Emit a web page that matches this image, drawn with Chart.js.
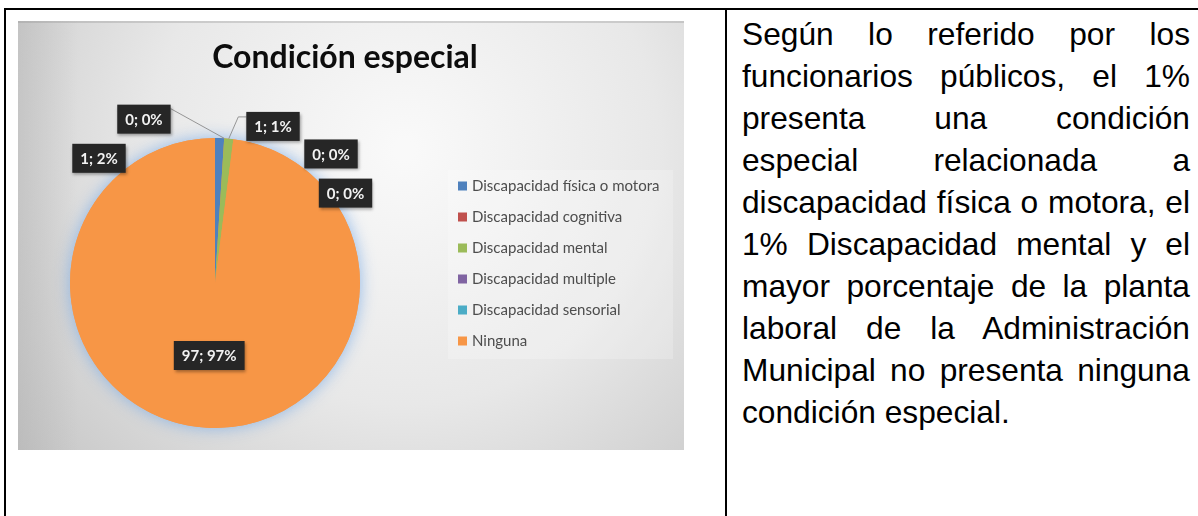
<!DOCTYPE html>
<html lang="es">
<head>
<meta charset="utf-8">
<title>Condición especial</title>
<script src="https://cdn.jsdelivr.net/npm/chart.js@4.4.0/dist/chart.umd.min.js"></script>
<style>
    body {
        margin: 0;
        width: 1198px;
        height: 516px;
        overflow: hidden;
        position: relative;
        background: #ffffff;
        font-family: "Liberation Sans", Arial, sans-serif;
    }
    .rule { position: absolute; background: #000; }
    .rule.top { left: 4px; top: 8px; width: 1194px; height: 2px; }
    .rule.left { left: 4px; top: 8px; width: 2px; height: 508px; }
    .rule.mid { left: 725px; top: 8px; width: 2px; height: 508px; }
    #chartBox { position: absolute; left: 18px; top: 21px; width: 666px; height: 429px; }
    .note {
        position: absolute;
        left: 742px;
        top: 13px;
        width: 448px;
        font-size: 31.7px;
        line-height: 42px;
        text-align: justify;
        color: #000;
    }
</style>
</head>
<body>
<div class="rule top"></div>
<div class="rule left"></div>
<div class="rule mid"></div>

<div id="chartBox"><canvas id="chart" width="666" height="429"></canvas></div>

<div class="note">Según lo referido por los funcionarios públicos, el 1% presenta una condición especial relacionada a discapacidad física o motora, el 1% Discapacidad mental y el mayor porcentaje de la planta laboral de la Administración Municipal no presenta ninguna condición especial.</div>

<script>
// Condición especial - conteo por categoría
const chartTitle = 'Condición especial';
const categories = [
    'Discapacidad física o motora',
    'Discapacidad cognitiva',
    'Discapacidad mental',
    'Discapacidad multiple',
    'Discapacidad sensorial',
    'Ninguna'
];
const counts = [1, 0, 1, 0, 0, 97];
const percentText = ['2%', '0%', '1%', '0%', '0%', '97%'];
const sliceColors = ['#4F81BD', '#C0504D', '#9BBB59', '#8064A2', '#4BACC6', '#F79646'];

// where each data label box sits, relative to the pie centre (in radii)
const labelOffsets = [
    [-0.80, -0.86],
    [-0.49, -1.13],
    [0.40, -1.08],
    [0.80, -0.89],
    [0.90, -0.62],
    [-0.04, 0.50]
];
// which labels get a leader line back to their slice
const leaderStyle = ['none', 'straight', 'elbow', 'none', 'none', 'none'];

const chartFont = 'Lato, "Open Sans", sans-serif';

// gray gradient panel behind everything
const panelBackground = {
    id: 'panelBackground',
    beforeDraw(chart) {
        const { ctx, width, height } = chart;
        ctx.save();
        const g = ctx.createRadialGradient(width * 0.58, height * 0.3, 10, width * 0.58, height * 0.3, width * 0.75);
        g.addColorStop(0, '#f9f9f9');
        g.addColorStop(0.5, '#e8e8e8');
        g.addColorStop(1, '#c4c4c4');
        ctx.fillStyle = g;
        ctx.fillRect(0, 0, width, height);
        // darker strip down the left side
        const side = ctx.createLinearGradient(0, 0, 60, 0);
        side.addColorStop(0, 'rgba(170,170,170,0.35)');
        side.addColorStop(1, 'rgba(170,170,170,0)');
        ctx.fillStyle = side;
        ctx.fillRect(0, 0, 60, height);
        ctx.fillStyle = 'rgba(150,150,150,0.35)';
        ctx.fillRect(0, 0, width, 2);
        ctx.restore();
    }
};

// soft bluish halo around the pie
const pieHalo = {
    id: 'pieHalo',
    beforeDatasetsDraw(chart) {
        const arc = chart.getDatasetMeta(0).data[0];
        if (!arc) return;
        const { ctx } = chart;
        ctx.save();
        ctx.shadowColor = 'rgba(120,170,230,0.8)';
        ctx.shadowBlur = 16;
        ctx.fillStyle = '#F79646';
        ctx.beginPath();
        ctx.arc(arc.x, arc.y, arc.outerRadius, 0, Math.PI * 2);
        ctx.fill();
        ctx.restore();
    }
};

// dark callout boxes "valor; porcentaje"
const calloutLabels = {
    id: 'calloutLabels',
    afterDatasetsDraw(chart) {
        const { ctx } = chart;
        const meta = chart.getDatasetMeta(0);
        ctx.save();
        ctx.font = 'bold 15px ' + chartFont;
        meta.data.forEach((arc, i) => {
            const r = arc.outerRadius;
            const cx = arc.x + labelOffsets[i][0] * r;
            const cy = arc.y + labelOffsets[i][1] * r;
            const text = counts[i] + '; ' + percentText[i];
            const w = ctx.measureText(text).width + 16;
            const h = 29;
            const left = cx - w / 2;
            const top = cy - h / 2;

            const mid = (arc.startAngle + arc.endAngle) / 2;
            const ex = arc.x + Math.cos(mid) * r;
            const ey = arc.y + Math.sin(mid) * r;
            ctx.strokeStyle = 'rgba(140,140,140,0.9)';
            ctx.lineWidth = 1;
            if (leaderStyle[i] === 'straight') {
                ctx.beginPath();
                ctx.moveTo(left + w, top + 4);
                ctx.lineTo(ex, ey);
                ctx.stroke();
            } else if (leaderStyle[i] === 'elbow') {
                ctx.beginPath();
                ctx.moveTo(ex, ey);
                ctx.lineTo(left - 8, top + 5);
                ctx.lineTo(left, top + 5);
                ctx.stroke();
            }

            ctx.save();
            ctx.shadowColor = 'rgba(0,0,0,0.35)';
            ctx.shadowBlur = 3;
            ctx.shadowOffsetX = 1;
            ctx.shadowOffsetY = 2;
            ctx.fillStyle = '#262626';
            ctx.fillRect(left, top, w, h);
            ctx.restore();

            ctx.fillStyle = '#f2f2f2';
            ctx.textAlign = 'center';
            ctx.textBaseline = 'middle';
            ctx.fillText(text, cx, cy + 1);
        });
        ctx.restore();
    }
};

// title and legend panel
const titleAndLegend = {
    id: 'titleAndLegend',
    afterDraw(chart) {
        const { ctx } = chart;
        ctx.save();
        ctx.fillStyle = '#0d0d0d';
        ctx.font = 'bold 32px ' + chartFont;
        ctx.textAlign = 'center';
        ctx.textBaseline = 'alphabetic';
        ctx.fillText(chartTitle, 327, 47);

        ctx.fillStyle = 'rgba(255,255,255,0.22)';
        ctx.fillRect(430, 149, 225, 189);

        ctx.font = '15px ' + chartFont;
        ctx.textAlign = 'left';
        ctx.textBaseline = 'middle';
        categories.forEach((name, i) => {
            const y = 165 + i * 31;
            ctx.fillStyle = sliceColors[i];
            ctx.fillRect(440, y - 4.5, 9, 9);
            ctx.fillStyle = '#4d4d4d';
            ctx.fillText(name, 454, y);
        });
        ctx.restore();
    }
};

const chart = new Chart(document.getElementById('chart').getContext('2d'), {
    type: 'pie',
    data: {
        labels: categories,
        datasets: [{
            data: counts,
            backgroundColor: sliceColors,
            borderWidth: 0
        }]
    },
    options: {
        responsive: false,
        animation: false,
        devicePixelRatio: 1,
        layout: { padding: { left: 52, right: 324, top: 117, bottom: 22 } },
        plugins: {
            legend: { display: false },
            tooltip: { enabled: false },
            title: { display: false }
        }
    },
    plugins: [panelBackground, pieHalo, calloutLabels, titleAndLegend]
});
</script>
</body>
</html>
